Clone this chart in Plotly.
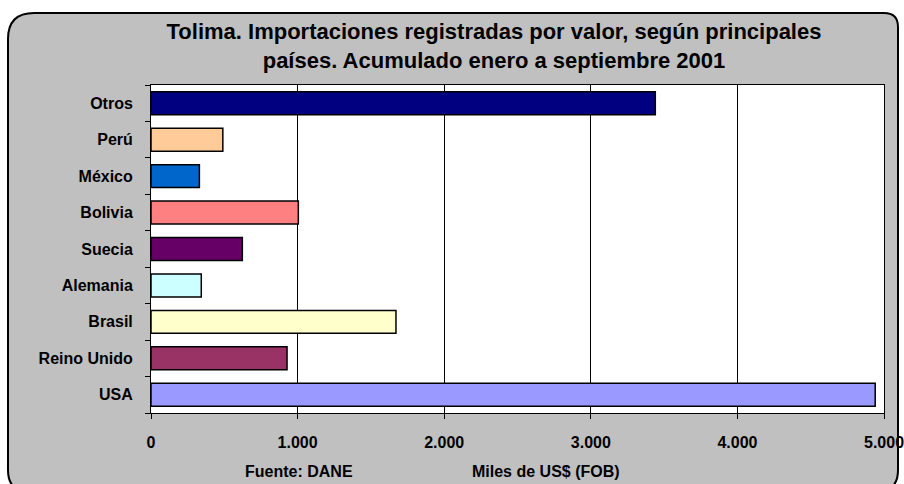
import plotly.graph_objects as go

categories = ["USA", "Reino Unido", "Brasil", "Alemania", "Suecia", "Bolivia", "México", "Perú", "Otros"]
values = [4940, 928, 1671, 343, 623, 1005, 330, 490, 3440]
colors = ["#9999FF", "#993366", "#FFFFCC", "#CCFFFF", "#660066", "#FF8080", "#0066CC", "#FFCC99", "#000080"]
x_ticks = [0, 1000, 2000, 3000, 4000, 5000]

title_text = "Tolima. Importaciones registradas por valor, según principales<br>países. Acumulado enero a septiembre 2001"
source_text = "Fuente: DANE"
unit_text = "Miles de US$ (FOB)"

W, H = 904, 484
L, R, T, B = 151, 884, 85, 413
FONT = "Arial, 'Liberation Sans', sans-serif"


def px(x):
    return (x - L) / (R - L)


def py(y):
    return (B - y) / (B - T)


fig = go.Figure()
fig.add_trace(go.Bar(
    y=categories, x=values, orientation="h",
    marker=dict(color=colors, line=dict(color="#000000", width=1.5)),
    hoverinfo="x+y",
))

# rounded outer border path (pixel -> paper coords)
x0, x1, y0, y1 = 8, 898, 13, 492
rtl, r, rb = 26, 14, 22
path = (
    f"M {px(x0)},{py(y0 + rtl)} "
    f"Q {px(x0)},{py(y0)} {px(x0 + rtl)},{py(y0)} "
    f"L {px(x1 - r)},{py(y0)} "
    f"Q {px(x1)},{py(y0)} {px(x1)},{py(y0 + r)} "
    f"L {px(x1)},{py(y1 - rb)} "
    f"Q {px(x1)},{py(y1)} {px(x1 - rb)},{py(y1)} "
    f"L {px(x0 + rb)},{py(y1)} "
    f"Q {px(x0)},{py(y1)} {px(x0)},{py(y1 - rb)} Z"
)

fig.update_layout(
    width=W, height=H,
    margin=dict(l=L, r=W - R, t=T, b=H - B, autoexpand=False),
    paper_bgcolor="#FFFFFF",
    plot_bgcolor="#FFFFFF",
    separators=",.",
    showlegend=False,
    bargap=0.37,
    font=dict(family=FONT, color="#000000"),
    title=dict(
        text=title_text, x=494 / W, xanchor="center", y=1 - 39 / H, yanchor="middle",
        font=dict(size=22, family=FONT, color="#000000", weight="bold"),
    ),
    xaxis=dict(
        range=[0, 5000], tickvals=x_ticks, tickformat=",d",
        showgrid=True, gridcolor="#000000", gridwidth=1,
        zeroline=False, showline=True, linecolor="#000000", linewidth=1,
        ticks="outside", ticklen=5, tickcolor="#000000",
        tickfont=dict(size=16, family=FONT, weight="bold"),
        mirror=True, ticklabelstandoff=10, ticklabeloverflow="allow",
        automargin=False,
    ),
    yaxis=dict(
        type="category", categoryorder="array", categoryarray=categories,
        showgrid=False, zeroline=False, showline=True, linecolor="#000000", linewidth=1,
        ticks="outside", ticklen=5, tickcolor="#000000", tickson="boundaries",
        tickfont=dict(size=16, family=FONT, weight="bold"),
        mirror=True, ticklabelstandoff=14, automargin=False,
    ),
    shapes=[
        dict(type="path", path=path, xref="paper", yref="paper",
             fillcolor="#C0C0C0", line=dict(color="#000000", width=2), layer="below"),
        dict(type="rect", x0=0, x1=1, y0=0, y1=1, xref="paper", yref="paper",
             fillcolor="#FFFFFF", line=dict(width=0), layer="below"),
    ],
    annotations=[
        dict(text=source_text, x=px(243), y=py(471), xref="paper", yref="paper",
             xanchor="left", yanchor="middle", showarrow=False,
             font=dict(size=16, family=FONT, weight="bold")),
        dict(text=unit_text, x=px(470), y=py(471), xref="paper", yref="paper",
             xanchor="left", yanchor="middle", showarrow=False,
             font=dict(size=16, family=FONT, weight="bold")),
    ],
)

fig.write_html("out.html", config={"displayModeBar": False},
               post_script="document.body.style.margin='0px';")
